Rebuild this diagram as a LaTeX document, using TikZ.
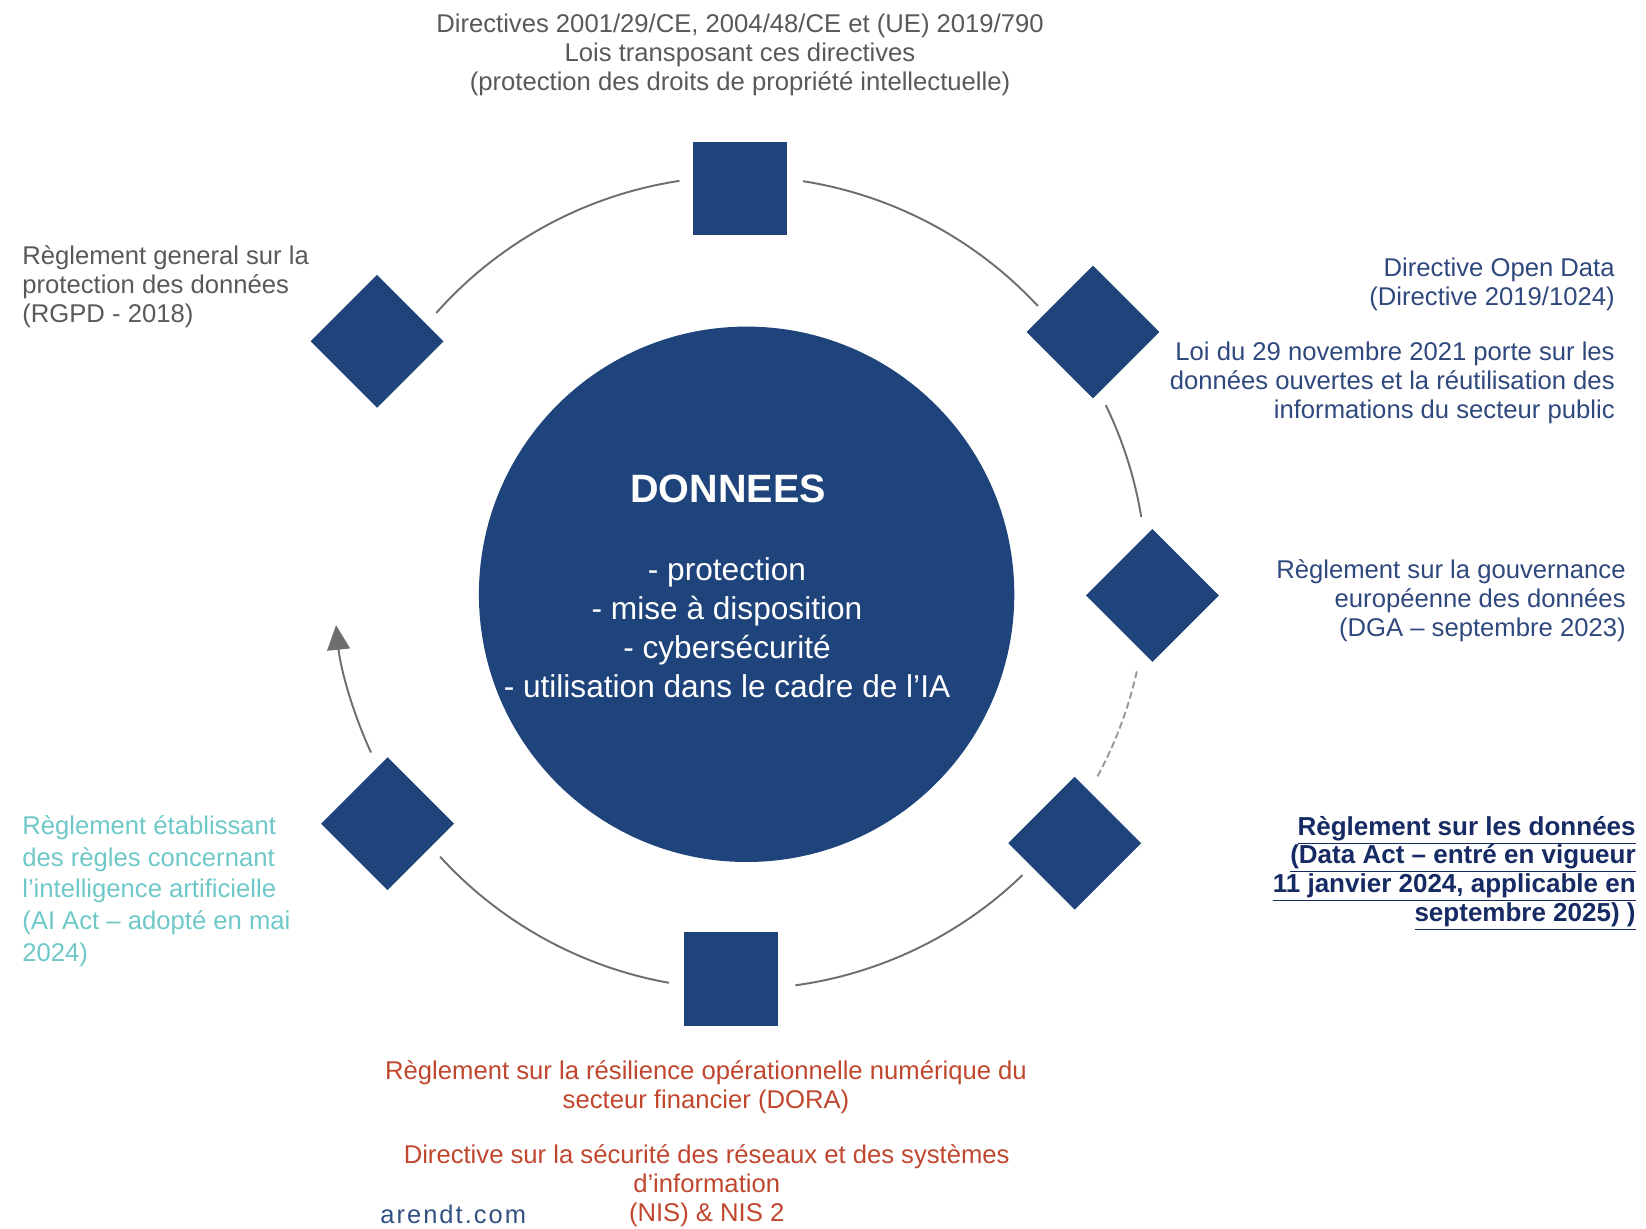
\documentclass[tikz,border=0pt]{standalone}
\usepackage{fontspec}
\setmainfont{Liberation Sans}
\definecolor{navy}{RGB}{31, 68, 123}
\definecolor{darknavy}{RGB}{22, 42, 100}
\definecolor{txtgray}{RGB}{89, 89, 89}
\definecolor{txtblue}{RGB}{47, 72, 125}
\definecolor{aiteal}{RGB}{110, 200, 200}
\definecolor{dorared}{RGB}{192, 70, 45}
\definecolor{ringgray}{RGB}{110, 110, 110}
\definecolor{arendtblue}{RGB}{50, 80, 130}
\usetikzlibrary{arrows.meta}

\tikzset{
  bloc/.style={fill=navy, draw=none, minimum size=1.88cm, inner sep=0pt},
  losange/.style={bloc, rotate=45},
  anneau/.style={draw=ringgray, line width=1.1pt},
  legende/.style={inner sep=0pt, font=\fontsize{14.6}{16.6}\selectfont},
}

\begin{document}
\begin{tikzpicture}[x=0.02cm, y=0.02cm]
  \useasboundingbox (0,0) rectangle (1646,-1229);

  % Centre
  \node[circle, fill=navy, minimum size=10.71cm, inner sep=0pt] (donnees) at (746.6,-594.3) {};
  \node[inner sep=0pt, text=white, font=\fontsize{22.5}{27}\selectfont\bfseries] (titre) at (728,-489) {DONNEES};
  \node[inner sep=0pt, text=white, align=center, font=\fontsize{18}{22.2}\selectfont] (liste) at (727,-627.5) {
    - protection\\- mise à disposition\\- cybersécurité\\- utilisation dans le cadre de l’IA
  };

  % Anneau
  \coordinate (ring) at (740.2,-582.7);
  \draw[anneau] ([shift={(138.4:406.4)}]ring) arc[start angle=138.4, end angle=98.6, radius=406.4];
  \draw[anneau] ([shift={(81.1:406.4)}]ring) arc[start angle=81.1, end angle=42.9, radius=406.4];
  \draw[anneau] ([shift={(25.9:406.4)}]ring) arc[start angle=25.9, end angle=9.3, radius=406.4];
  \draw[anneau, draw=ringgray!70, dash pattern=on 4pt off 2pt] ([shift={(-12.6:406.4)}]ring) arc[start angle=-12.6, end angle=-28.8, radius=406.4];
  \draw[anneau] ([shift={(-46:406.4)}]ring) arc[start angle=-46, end angle=-82.2, radius=406.4];
  \draw[anneau] ([shift={(-100.1:406.4)}]ring) arc[start angle=-100.1, end angle=-137.6, radius=406.4];
  \draw[anneau, -{Triangle[length=14pt, width=13pt]}] ([shift={(-155.3:406.4)}]ring) arc[start angle=-155.3, end angle=-174, radius=406.4];

  % Blocs
  \node[bloc] (dpi) at (740.3,-188.5) {};
  \node[losange] (opendata) at (1093,-332) {};
  \node[losange] (dga) at (1152.4,-595.4) {};
  \node[losange] (dataact) at (1074.7,-843.2) {};
  \node[bloc] (dora) at (730.8,-979.1) {};
  \node[losange] (aiact) at (387.5,-823.7) {};
  \node[losange] (rgpd) at (377,-341.3) {};

  % Legendes
  \node[legende, text=txtgray, align=center] (tdpi) at (740,-55) {
    Directives 2001/29/CE, 2004/48/CE et (UE) 2019/790\\Lois transposant ces directives\\(protection des droits de propriété intellectuelle)
  };
  \node[legende, text=txtgray, align=left, anchor=west] (trgpd) at (22,-287) {
    Règlement general sur la\\protection des données\\(RGPD - 2018)
  };
  \node[legende, text=txtblue, align=right, anchor=east] (topendata) at (1615,-284) {
    Directive Open Data\\(Directive 2019/1024)
  };
  \node[legende, text=txtblue, align=right, anchor=east] (tloi) at (1615,-383) {
    Loi du 29 novembre 2021 porte sur les\\données ouvertes et la réutilisation des\\informations du secteur public
  };
  \node[legende, text=txtblue, align=right, anchor=east] (tdga) at (1626,-601) {
    Règlement sur la gouvernance\\européenne des données\\(DGA – septembre 2023)
  };
  \node[legende, text=darknavy, align=right, anchor=east, font=\fontsize{14.8}{16.3}\selectfont\bfseries] (tdataact) at (1636,-873) {
    \underline{Règlement sur les données\vphantom{()}}\\\underline{(Data Act – entré en vigueur}\\\underline{11 janvier 2024, applicable en\vphantom{()}}\\\underline{septembre 2025) )}
  };
  \node[legende, text=aiteal, align=left, anchor=west, font=\fontsize{14.6}{18}\selectfont] (taiact) at (22,-891) {
    Règlement établissant\\des règles concernant\\l’intelligence artificielle\\(AI Act – adopté en mai\\2024)
  };
  \node[legende, text=dorared, align=center] (tdora) at (706,-1087.5) {
    Règlement sur la résilience opérationnelle numérique du\\secteur financier (DORA)
  };
  \node[legende, text=dorared, align=center] (tnis) at (706.7,-1186) {
    Directive sur la sécurité des réseaux et des systèmes\\d’information\\(NIS) \& NIS 2
  };
  \node[inner sep=0pt, anchor=west, text=arendtblue, font=\fontsize{14.5}{17}\selectfont\addfontfeatures{LetterSpace=8}] (arendt) at (380,-1214) {arendt.com};
\end{tikzpicture}
\end{document}
